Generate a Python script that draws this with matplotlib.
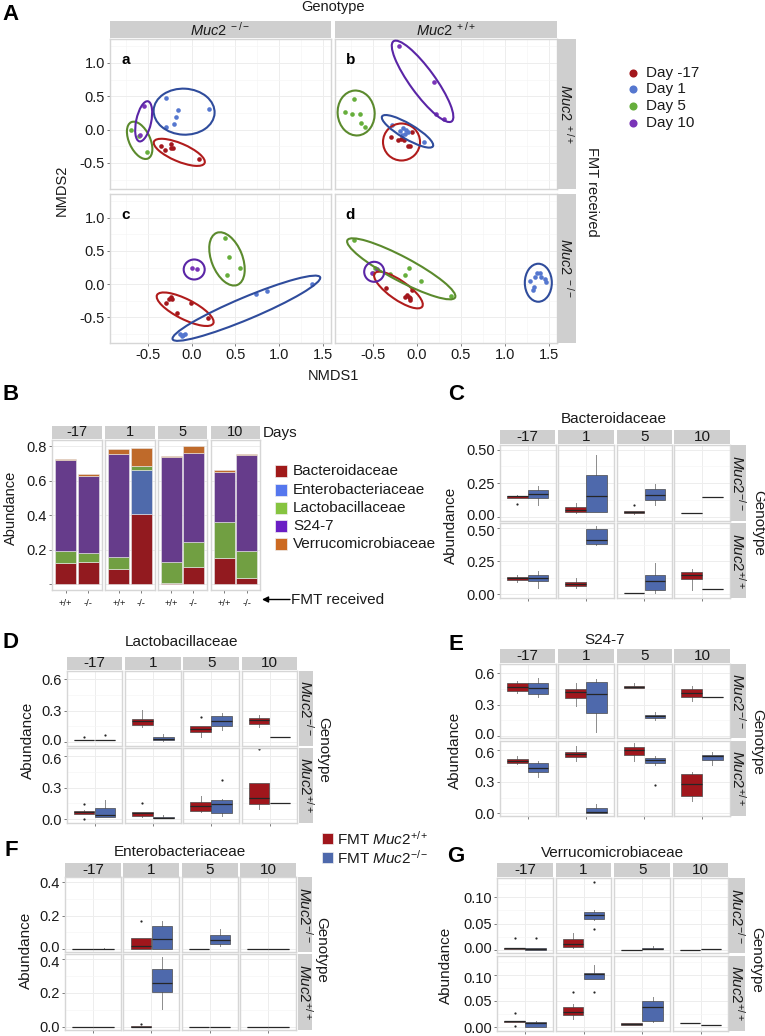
import numpy as np
import matplotlib
matplotlib.use('Agg')
import matplotlib.pyplot as plt
from matplotlib.patches import Ellipse, Rectangle
import matplotlib.transforms as mtransforms

plt.rcParams['font.family'] = ['Liberation Sans', 'DejaVu Sans']
plt.rcParams['mathtext.fontset'] = 'custom'
plt.rcParams['mathtext.rm'] = 'Liberation Sans'
plt.rcParams['mathtext.it'] = 'Liberation Sans:italic'
plt.rcParams['mathtext.bf'] = 'Liberation Sans:bold'
plt.rcParams['axes.unicode_minus'] = False

# ---------------- DATA ----------------
DAY_LABELS = ['Day -17', 'Day 1', 'Day 5', 'Day 10']
DAYS = ['-17', '1', '5', '10']
FMT_GROUPS = ['+/+', '-/-']

# Panel A (NMDS) points, per day (-17, 1, 5, 10)
NM_A_X = [[-0.35, -0.30, -0.23, -0.21, -0.24, 0.083], [-0.294, -0.153, -0.183, -0.20, -0.29, 0.20],
          [-0.69, -0.60, -0.51], [-0.54, -0.59]]
NM_A_Y = [[-0.25, -0.31, -0.22, -0.27, -0.28, -0.44], [0.47, 0.30, 0.19, 0.09, 0.04, 0.31],
          [0.0, -0.09, -0.34], [0.35, -0.08]]
NM_B_X = [[-0.29, -0.21, -0.057, -0.083, -0.10, -0.18, -0.15], [-0.28, 0.076, -0.19, -0.16, -0.12, -0.14, -0.17, -0.10],
          [-0.72, -0.82, -0.735, -0.644, -0.636, -0.584], [-0.20, 0.19, 0.22, 0.31]]
NM_B_Y = [[-0.115, -0.15, -0.04, -0.25, -0.25, -0.14, -0.16], [0.075, -0.18, -0.02, 0.02, 0.0, -0.06, -0.08, -0.03],
          [0.46, 0.265, 0.24, 0.23, 0.10, 0.04], [1.26, 0.71, 0.23, 0.165]]
NM_C_X = [[-0.286, -0.256, -0.23, -0.22, -0.17, -0.011, 0.186], [-0.134, -0.10, -0.07, -0.11, 0.736, 0.865, 1.37],
          [0.381, 0.423, 0.556, 0.404], [0.0, 0.057]]
NM_C_Y = [[-0.29, -0.23, -0.20, -0.22, -0.44, -0.29, -0.505], [-0.75, -0.77, -0.75, -0.79, -0.155, -0.105, 0.0],
          [0.70, 0.415, 0.25, 0.13], [0.25, 0.22]]
NM_D_X = [[-0.35, -0.114, -0.095, -0.076, -0.057, -0.084, -0.13],
          [1.287, 1.333, 1.32, 1.364, 1.394, 1.41, 1.47, 1.45, 1.34],
          [-0.71, -0.48, -0.50, -0.31, -0.095, -0.14, 0.05, 0.386], [-0.51, -0.45]]
NM_D_Y = [[-0.06, -0.165, -0.19, -0.215, -0.09, -0.24, -0.19],
          [0.05, -0.05, -0.09, 0.17, 0.17, 0.11, 0.035, 0.07, 0.11],
          [0.66, 0.25, 0.17, 0.145, 0.24, 0.13, 0.045, -0.175], [0.17, 0.22]]
# confidence ellipses: centre x, centre y (data), full width, full height (px), angle (deg)
ELL_A = [(-0.14, -0.34, 55, 18, -23), (-0.085, 0.27, 61, 46, -3), (-0.592, -0.16, 40, 21, 115), (-0.546, 0.125, 41, 15, 78)]
ELL_B = [(-0.175, -0.185, 37, 37, 0), (-0.107, -0.025, 59, 15, -30.5), (-0.69, 0.25, 45, 37, 95), (0.064, 0.725, 99, 25, -54)]
ELL_C = [(-0.073, -0.38, 63, 20, -26.8), (0.625, -0.365, 160, 22, 22.8), (0.404, 0.38, 56, 31, 111.7), (0.03, 0.22, 21, 20, 0)]
ELL_D = [(-0.21, -0.09, 58, 19, -35), (1.378, 0.02, 27, 38, 0), (-0.178, 0.23, 122, 24, -28), (-0.485, 0.185, 20, 20, 0)]

# Panel B: mean abundance per day [FMT +/+, FMT -/-]
FAMILIES = ['Bacteroidaceae', 'Enterobacteriaceae', 'Lactobacillaceae', 'S24-7', 'Verrucomicrobiaceae']
B_BACT = [[0.120, 0.128], [0.089, 0.409], [0.008, 0.099], [0.151, 0.035]]
B_ENTERO = [[0.0, 0.0], [0.0, 0.252], [0.0, 0.0], [0.0, 0.0]]
B_LACTO = [[0.074, 0.054], [0.070, 0.023], [0.118, 0.145], [0.211, 0.155]]
B_S247 = [[0.527, 0.448], [0.597, 0.002], [0.614, 0.520], [0.291, 0.558]]
B_VERRU = [[0.008, 0.008], [0.027, 0.105], [0.004, 0.038], [0.008, 0.006]]

# Box statistics [whislo, q1, med, q3, whishi] per day; KO = recipient Muc2-/-, WT = Muc2+/+
# R = FMT Muc2+/+ (red), U = FMT Muc2-/- (blue)
BACT_KO_R = [[0.143, 0.143, 0.152, 0.158, 0.160], [0.030, 0.036, 0.051, 0.069, 0.102],
             [0.018, 0.026, 0.035, 0.043, 0.043], [0.028, 0.028, 0.028, 0.028, 0.028]]
BACT_KO_U = [[0.089, 0.137, 0.168, 0.201, 0.226], [0.038, 0.038, 0.158, 0.310, 0.462],
             [0.089, 0.127, 0.165, 0.206, 0.241], [0.146, 0.148, 0.148, 0.148, 0.150]]
BACT_WT_R = [[0.094, 0.111, 0.120, 0.131, 0.143], [0.044, 0.059, 0.074, 0.091, 0.126],
             [0.010, 0.010, 0.010, 0.010, 0.010], [0.032, 0.113, 0.148, 0.168, 0.192]]
BACT_WT_U = [[0.044, 0.098, 0.126, 0.143, 0.172], [0.369, 0.377, 0.411, 0.493, 0.512],
             [0.007, 0.032, 0.101, 0.143, 0.236], [0.039, 0.039, 0.039, 0.039, 0.039]]
BACT_OUT = {(0, 0, 0): [0.094], (0, 0, 2): [0.089]}

LACTO_KO_R = [[0.018, 0.018, 0.021, 0.024, 0.024], [0.144, 0.160, 0.201, 0.217, 0.303],
              [0.048, 0.096, 0.128, 0.150, 0.150], [0.144, 0.169, 0.208, 0.230, 0.255]]
LACTO_KO_U = [[0.016, 0.016, 0.019, 0.022, 0.024], [0.010, 0.016, 0.032, 0.048, 0.073],
              [0.112, 0.150, 0.201, 0.249, 0.278], [0.048, 0.048, 0.048, 0.048, 0.048]]
LACTO_WT_R = [[0.049, 0.049, 0.064, 0.081, 0.085], [0.016, 0.029, 0.055, 0.071, 0.071],
              [0.064, 0.081, 0.120, 0.162, 0.217], [0.097, 0.146, 0.204, 0.347, 0.347]]
LACTO_WT_U = [[0.016, 0.022, 0.042, 0.103, 0.185], [0.010, 0.010, 0.013, 0.016, 0.039],
              [0.032, 0.058, 0.139, 0.178, 0.195], [0.152, 0.152, 0.152, 0.152, 0.152]]
LACTO_OUT = {(0, 0, 0): [0.048], (0, 1, 0): [0.067], (0, 0, 2): [0.239],
             (1, 0, 0): [0.146, 0.0], (1, 0, 1): [0.152], (1, 0, 3): [0.665], (1, 1, 2): [0.373]}

S247_KO_R = [[0.409, 0.431, 0.469, 0.504, 0.526], [0.287, 0.367, 0.418, 0.447, 0.504],
             [0.456, 0.456, 0.469, 0.481, 0.504], [0.338, 0.376, 0.409, 0.447, 0.478]]
S247_KO_U = [[0.376, 0.399, 0.456, 0.504, 0.552], [0.032, 0.217, 0.399, 0.520, 0.545],
             [0.153, 0.169, 0.185, 0.198, 0.227], [0.370, 0.370, 0.370, 0.370, 0.370]]
S247_WT_R = [[0.470, 0.483, 0.500, 0.516, 0.548], [0.500, 0.536, 0.568, 0.584, 0.639],
             [0.493, 0.558, 0.600, 0.629, 0.665], [0.120, 0.168, 0.276, 0.373, 0.395]]
S247_WT_U = [[0.347, 0.392, 0.428, 0.477, 0.500], [0.0, 0.0, 0.01, 0.055, 0.088],
             [0.461, 0.483, 0.503, 0.526, 0.548], [0.461, 0.509, 0.541, 0.558, 0.584]]
S247_OUT = {(1, 1, 2): [0.266]}

ENTERO_KO_R = [[0, 0, 0, 0, 0], [0.0, 0.0, 0.017, 0.064, 0.064], [0, 0, 0, 0, 0], [0, 0, 0, 0, 0]]
ENTERO_KO_U = [[0.0, 0.0, 0.001, 0.002, 0.003], [0.0, 0.0, 0.058, 0.138, 0.170],
               [0.017, 0.027, 0.053, 0.084, 0.119], [0, 0, 0, 0, 0]]
ENTERO_WT_R = [[0, 0, 0, 0, 0], [0.0, 0.0, 0.0, 0.001, 0.002], [0, 0, 0, 0, 0], [0, 0, 0, 0, 0]]
ENTERO_WT_U = [[0, 0, 0, 0, 0], [0.104, 0.205, 0.258, 0.341, 0.413], [0, 0, 0, 0, 0], [0, 0, 0, 0, 0]]
ENTERO_OUT = {(0, 0, 1): [0.170], (1, 0, 1): [0.016]}

VERRU_KO_R = [[0.001, 0.001, 0.003, 0.004, 0.004], [0.004, 0.005, 0.0115, 0.020, 0.032],
              [0, 0, 0, 0, 0], [0, 0, 0, 0, 0]]
VERRU_KO_U = [[0.0, 0.0, 0.002, 0.003, 0.003], [0.057, 0.0588, 0.0654, 0.0717, 0.075],
              [0.001, 0.001, 0.002, 0.004, 0.0064], [0.001, 0.001, 0.001, 0.001, 0.001]]
VERRU_WT_R = [[0.009, 0.0105, 0.0113, 0.012, 0.012], [0.0157, 0.023, 0.0294, 0.039, 0.044],
              [0.003, 0.003, 0.005, 0.0081, 0.0081], [0.0081, 0.0081, 0.0081, 0.0081, 0.0081]]
VERRU_WT_U = [[0.001, 0.001, 0.008, 0.0094, 0.011], [0.091, 0.0925, 0.1006, 0.104, 0.118],
              [0.0094, 0.0125, 0.0377, 0.050, 0.0566], [0.003, 0.003, 0.003, 0.003, 0.003]]
VERRU_OUT = {(0, 0, 0): [0.022], (0, 1, 0): [0.022], (0, 1, 1): [0.130, 0.039],
             (1, 0, 0): [0.026, 0.002], (1, 0, 1): [0.067], (1, 1, 1): [0.067]}

# ---------------- STYLE ----------------
PT_COL = ['#A3171D', '#5577CF', '#66AE3C', '#7A34B8']
EL_COL = ['#B01C1C', '#2F4C9C', '#5B8A2D', '#5A25A6']
BAR_COL = ['#921A1F', '#4F6AAB', '#719F42', '#663C8B', '#BF6A2A']
LEG_COL = ['#A01A1A', '#5577EE', '#86C440', '#6A1EC4', '#CC6A22']
BOX_COL = ['#A0161C', '#4E69AC']
STRIP = '#CFCFCF'
BORDER = '#D6D6D6'
GRID = '#EDEDED'
TXT = '#1A1A1A'
FS = 10.5

W, H = 765, 1036
fig = plt.figure(figsize=(W / 100, H / 100), dpi=100)
fig.patch.set_facecolor('white')


def px_axes(x0, y0, x1, y1):
    return fig.add_axes([x0 / W, 1 - y1 / H, (x1 - x0) / W, (y1 - y0) / H])


ov = fig.add_axes([0, 0, 1, 1], zorder=20)
ov.set_xlim(0, W)
ov.set_ylim(H, 0)
ov.axis('off')
ov.patch.set_alpha(0)


def strip(x0, y0, x1, y1, label, rot=0, size=FS):
    ov.add_patch(Rectangle((x0, y0), x1 - x0, y1 - y0, fc=STRIP, ec='none'))
    ov.text((x0 + x1) / 2, (y0 + y1) / 2, label, ha='center', va='center',
            rotation=rot, fontsize=size, color=TXT)


def style(ax, showx, showy):
    ax.set_facecolor('white')
    for s in ax.spines.values():
        s.set_color(BORDER)
        s.set_linewidth(1.0)
    ax.grid(True, which='major', color=GRID, lw=0.7)
    ax.grid(True, which='minor', color='#F5F5F5', lw=0.5)
    ax.set_axisbelow(True)
    ax.tick_params(which='both', length=2.2, width=0.6, color='#666666', pad=1.5,
                   labelsize=FS, labelcolor=TXT)
    ax.tick_params(which='minor', length=0)
    ax.tick_params(axis='x', bottom=showx, labelbottom=showx)
    ax.tick_params(axis='y', left=showy, labelleft=showy)


def nudge(label, dy_px):
    label.set_transform(label.get_transform() +
                        mtransforms.ScaledTranslation(0, dy_px / 100, fig.dpi_scale_trans))


# ---------------- PANEL A ----------------
ov.text(11, 14.5, 'A', fontsize=16, fontweight='bold', ha='center', va='center')
ov.text(333, 7.5, 'Genotype', fontsize=FS, ha='center', va='center', color=TXT)
strip(110, 21, 331, 37.5, r'$\mathit{Muc2}^{\ -/-}$')
strip(335, 21, 557, 37.5, r'$\mathit{Muc2}^{\ +/+}$')
strip(557, 39, 576, 189, r'$\mathit{Muc2}^{\ +/+}$', rot=-90)
strip(557, 194, 576, 343, r'$\mathit{Muc2}^{\ -/-}$', rot=-90)
ov.text(592, 192, 'FMT received', fontsize=FS, rotation=-90, ha='center', va='center', color=TXT)
ov.text(62, 190, 'NMDS2', fontsize=FS, rotation=90, ha='center', va='center', color=TXT)
ov.text(333, 376, 'NMDS1', fontsize=FS, ha='center', va='center', color=TXT)

nm_panels = [((110, 39, 331, 189), NM_A_X, NM_A_Y, ELL_A, 'a', False, True),
             ((335, 39, 557, 189), NM_B_X, NM_B_Y, ELL_B, 'b', False, False),
             ((110, 194, 331, 343), NM_C_X, NM_C_Y, ELL_C, 'c', True, True),
             ((335, 194, 557, 343), NM_D_X, NM_D_Y, ELL_D, 'd', True, False)]
for rect, xs, ys, ells, letter, sx, sy in nm_panels:
    ax = px_axes(*rect)
    ax.set_xlim(-0.93, 1.59)
    ax.set_ylim(-0.89, 1.36)
    ax.set_xticks([-0.5, 0, 0.5, 1.0, 1.5])
    ax.set_xticklabels(['-0.5', '0.0', '0.5', '1.0', '1.5'])
    ax.set_xticks([-0.75, -0.25, 0.25, 0.75, 1.25], minor=True)
    ax.set_yticks([-0.5, 0, 0.5, 1.0])
    ax.set_yticklabels(['-0.5', '0.0', '0.5', '1.0'])
    ax.set_yticks([-0.75, -0.25, 0.25, 0.75, 1.25], minor=True)
    style(ax, sx, sy)
    for d in range(4):
        ax.scatter(xs[d], ys[d], s=11, c=PT_COL[d], lw=0, zorder=3)
        cx, cy, w, h, ang = ells[d]
        tr = fig.dpi_scale_trans + mtransforms.ScaledTranslation(cx, cy, ax.transData)
        ax.add_patch(Ellipse((0, 0), w / 100, h / 100, angle=ang, transform=tr,
                             fill=False, ec=EL_COL[d], lw=1.5, zorder=4))
    ax.text(0.07, 0.86, letter, transform=ax.transAxes, fontsize=11, fontweight='bold',
            ha='center', va='center')

for i, lab in enumerate(DAY_LABELS):
    y = [72.7, 89.3, 106, 123.3][i]
    ov.scatter([633.5], [y], s=34, c=PT_COL[i], lw=0)
    ov.text(646, y, lab, fontsize=FS + 0.5, ha='left', va='center', color=TXT)

# ---------------- PANEL B ----------------
ov.text(11, 394, 'B', fontsize=16, fontweight='bold', ha='center', va='center')
ov.text(11, 508, 'Abundance', fontsize=FS, rotation=90, ha='center', va='center', color=TXT)
b_x = [(52.3, 101.7), (105.3, 155), (157.7, 206.7), (210.7, 260)]
b_stack = [B_BACT, B_ENTERO, B_LACTO, B_S247, B_VERRU]
for d in range(4):
    x0, x1 = b_x[d]
    strip(x0, 425.7, x1, 439.3, DAYS[d])
    ax = px_axes(x0, 440, x1, 590)
    ax.set_xlim(0.4, 2.6)
    ax.set_ylim(-0.035, 0.837)
    ax.set_xticks([1, 2])
    ax.set_xticklabels(FMT_GROUPS)
    ax.set_yticks([0, 0.2, 0.4, 0.6, 0.8])
    ax.set_yticklabels(['', '0.2', '0.4', '0.6', '0.8'])
    style(ax, True, d == 0)
    ax.grid(False, axis='x')
    ax.tick_params(axis='x', labelsize=6.8, pad=4)
    bottom = np.zeros(2)
    for f in range(5):
        v = np.array(b_stack[f][d], dtype=float)
        ax.bar([1, 2], v, bottom=bottom, width=0.94, color=BAR_COL[f], edgecolor='#E8E8E8', linewidth=0.4)
        bottom += v
ov.text(263, 432.7, 'Days', fontsize=FS + 0.5, ha='left', va='center', color=TXT)
ov.annotate('', xy=(262, 599.5), xytext=(290, 599.5),
            arrowprops=dict(arrowstyle='-|>', color='black', lw=1.0, mutation_scale=9, shrinkA=0, shrinkB=0))
ov.text(291, 599.5, 'FMT received', fontsize=FS + 0.5, ha='left', va='center', color=TXT)
for i, fam in enumerate(FAMILIES):
    y = [471, 489.5, 507.7, 525.7, 544.3][i]
    ov.add_patch(Rectangle((275, y - 6), 12, 12, fc=LEG_COL[i], ec='#F0F0F0', lw=0.5))
    ov.text(293, y, fam, fontsize=FS + 0.5, ha='left', va='center', color=TXT)


# ---------------- BOX PANELS ----------------
def box_facet(title, xs0, pw, rows, strip_y, rstrip_x, ylim, yticks, ylabels, yminor,
              data, outs, title_xy, geno_xy, ab_xy, letter, letter_xy):
    ov.text(letter_xy[0], letter_xy[1], letter, fontsize=16, fontweight='bold', ha='center', va='center')
    ov.text(title_xy[0], title_xy[1], title, fontsize=FS + 0.5, ha='center', va='center', color=TXT)
    ov.text(geno_xy[0], geno_xy[1], 'Genotype', fontsize=FS + 0.5, rotation=-90, ha='center', va='center', color=TXT)
    ov.text(ab_xy[0], ab_xy[1], 'Abundance', fontsize=FS + 0.5, rotation=90, ha='center', va='center', color=TXT)
    for d in range(4):
        strip(xs0[d], strip_y[0], xs0[d] + pw, strip_y[1], DAYS[d], size=FS + 0.5)
    row_lab = [r'$\mathit{Muc2}^{-/-}$', r'$\mathit{Muc2}^{+/+}$']
    for r, (y0, y1) in enumerate(rows):
        strip(rstrip_x[0], y0, rstrip_x[1], y1, row_lab[r], rot=-90, size=FS + 0.5)
        for d in range(4):
            ax = px_axes(xs0[d], y0, xs0[d] + pw, y1)
            ax.set_xlim(0.4, 1.6)
            ax.set_ylim(*ylim)
            ax.set_xticks([1])
            ax.set_xticklabels([''])
            ax.set_yticks(yticks)
            labs = ax.set_yticklabels(ylabels)
            ax.set_yticks(yminor, minor=True)
            style(ax, r == 1, d == 0)
            if d == 0:
                # keep the touching labels of the two rows apart, as in the reference
                if r == 0:
                    nudge(labs[0], 2.5)
                else:
                    nudge(labs[-1], -2.5)
            for g in range(2):
                s = data[r][g][d]
                st = dict(whislo=s[0], q1=s[1], med=s[2], q3=s[3], whishi=s[4],
                          fliers=outs.get((r, g, d), []))
                ax.bxp([st], positions=[1 + (g - 0.5) * 0.45], widths=0.44, patch_artist=True,
                       showcaps=False, manage_ticks=False,
                       boxprops=dict(facecolor=BOX_COL[g], edgecolor='#4A4A4A', lw=0.5, zorder=2),
                       medianprops=dict(color='#262626', lw=0.9, zorder=3),
                       whiskerprops=dict(color='#8C8C8C', lw=0.7, zorder=1),
                       flierprops=dict(marker='o', markersize=1.6, markerfacecolor='#262626',
                                       markeredgecolor='none'))


box_facet('Bacteroidaceae', [500, 558.3, 616.7, 674.3], 55.5, [(445, 520.7), (523.3, 598.3)],
          (430, 444), (730.7, 746), (-0.03, 0.535), [0, 0.25, 0.5], ['0.00', '0.25', '0.50'], [0.125, 0.375],
          [[BACT_KO_R, BACT_KO_U], [BACT_WT_R, BACT_WT_U]], BACT_OUT,
          (614, 419.3), (758, 523), (451, 525), 'C', (456, 395))
box_facet('Lactobacillaceae', [66.7, 125, 183.3, 241.7], 55.7, [(670.7, 745.7), (747.7, 822.7)],
          (656.7, 670), (299, 313.3), (-0.035, 0.68), [0, 0.3, 0.6], ['0.0', '0.3', '0.6'], [0.15, 0.45],
          [[LACTO_KO_R, LACTO_KO_U], [LACTO_WT_R, LACTO_WT_U]], LACTO_OUT,
          (182, 641.7), (323.3, 750), (27.5, 740), 'D', (11, 643))
box_facet('S24-7', [500, 558.3, 616.7, 674.3], 55.5, [(664, 738.3), (740.7, 816)],
          (649.3, 663.3), (730.7, 746), (-0.025, 0.69), [0, 0.3, 0.6], ['0.0', '0.3', '0.6'], [0.15, 0.45],
          [[S247_KO_R, S247_KO_U], [S247_WT_R, S247_WT_U]], S247_OUT,
          (605, 640), (757, 741.7), (455, 750), 'E', (456, 645))
box_facet('Enterobacteriaceae', [65, 123.3, 181.7, 240], 56, [(877.3, 952.3), (954.3, 1030)],
          (863.3, 876.7), (297.7, 312.3), (-0.02, 0.43), [0, 0.2, 0.4], ['0.0', '0.2', '0.4'], [0.1, 0.3],
          [[ENTERO_KO_R, ENTERO_KO_U], [ENTERO_WT_R, ENTERO_WT_U]], ENTERO_OUT,
          (180, 851.7), (321.7, 950), (26, 950), 'F', (11, 851))
box_facet('Verrucomicrobiaceae', [497.3, 555.7, 614.3, 672.7], 55.7, [(878.3, 953.3), (955.7, 1030.7)],
          (863.3, 877.3), (729.3, 745), (-0.007, 0.1365), [0, 0.05, 0.10], ['0.00', '0.05', '0.10'],
          [0.025, 0.075, 0.125],
          [[VERRU_KO_R, VERRU_KO_U], [VERRU_WT_R, VERRU_WT_U]], VERRU_OUT,
          (612.7, 853.3), (756.7, 960), (446, 965), 'G', (456, 856))

# FMT legend
for i, lab in enumerate([r'FMT $\mathit{Muc2}^{+/+}$', r'FMT $\mathit{Muc2}^{-/-}$']):
    y = [838.3, 857.3][i]
    ov.add_patch(Rectangle((322, y - 5.5), 11, 11, fc=BOX_COL[i], ec='#F0F0F0', lw=0.5))
    ov.text(337, y, lab, fontsize=FS + 0.5, ha='left', va='center', color=TXT)

fig.savefig('out.png', dpi=100, facecolor='white')
